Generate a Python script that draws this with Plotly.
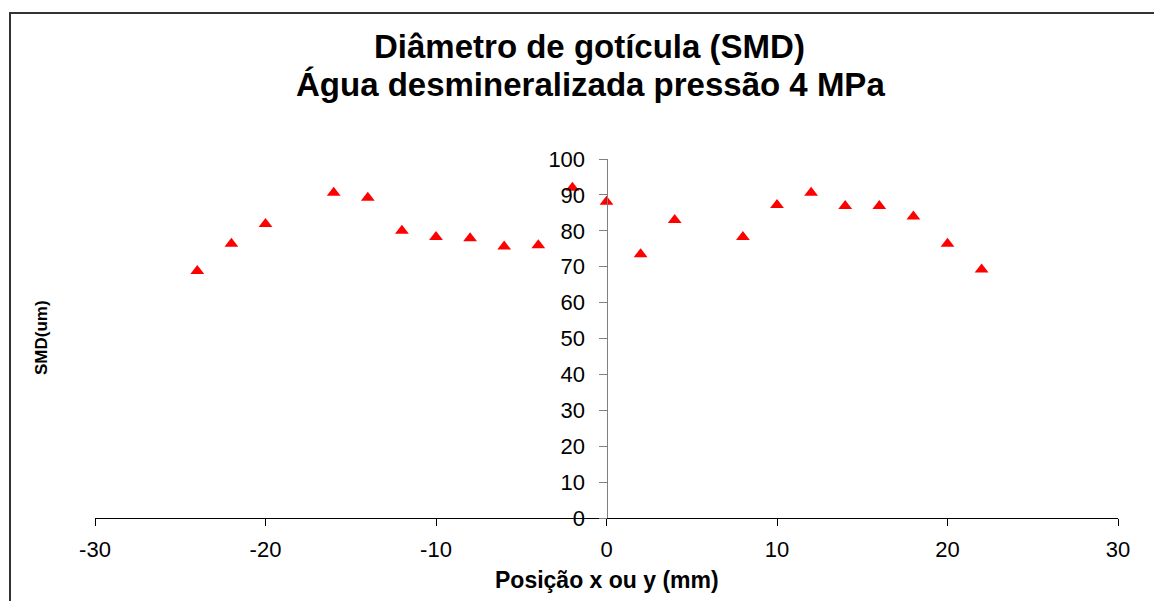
import plotly.graph_objects as go

# Data
positions = [-24, -22, -20, -16, -14, -12, -10, -8, -6, -4, -2, 0,
             2, 4, 8, 10, 12, 14, 16, 18, 20, 22]
smd = [68.8, 76.4, 81.9, 90.6, 89.2, 80.0, 78.3, 77.9, 75.6, 76.0, 92.0, 88.1,
       73.5, 83.0, 78.3, 87.2, 90.6, 86.9, 86.9, 84.0, 76.4, 69.2]
x_ticks = [-30, -20, -10, 0, 10, 20, 30]
y_ticks = [0, 10, 20, 30, 40, 50, 60, 70, 80, 90, 100]

title_line1 = "Diâmetro de gotícula (SMD)"
title_line2 = "Água desmineralizada pressão 4 MPa"
x_title = "Posição x ou y (mm)"
y_title = "SMD(um)"

W, H = 1154, 601
L, R, T, B = 95, 36, 159, 83
pw, ph = W - L - R, H - T - B

def px_x(p):
    return (p - L) / pw

def px_y(p):
    return (H - B - p) / ph

FONT = "Liberation Sans, Arial, sans-serif"

fig = go.Figure()
fig.add_trace(go.Scatter(
    x=positions, y=smd, mode="markers",
    marker=dict(symbol="triangle-up", size=12, color="#ff0000"),
    showlegend=False, cliponaxis=False,
))

fig.update_layout(
    width=W, height=H,
    margin=dict(l=L, r=R, t=T, b=B),
    paper_bgcolor="white", plot_bgcolor="white",
    font=dict(family=FONT, color="black"),
    xaxis=dict(
        range=[-30, 30], tickvals=x_ticks, ticktext=[str(v) for v in x_ticks],
        showgrid=False, zeroline=False, showline=True, linecolor="black",
        linewidth=1, ticks="outside", ticklen=7, tickcolor="black",
        tickfont=dict(size=22, family=FONT), ticklabelstandoff=5,
    ),
    yaxis=dict(
        range=[0, 100], tickvals=y_ticks, ticktext=[str(v) for v in y_ticks],
        showgrid=False, zeroline=False, showline=True, linecolor="#808080",
        linewidth=1, ticks="outside", ticklen=8, tickcolor="#808080",
        tickfont=dict(size=22, family=FONT), anchor="free", position=0.5,
        ticklabelstandoff=9,
    ),
    annotations=[
        dict(text="<b>%s</b>" % title_line1, x=px_x(589), y=px_y(46),
             xref="paper", yref="paper", showarrow=False,
             xanchor="center", yanchor="middle",
             font=dict(size=33, family=FONT)),
        dict(text="<b>%s</b>" % title_line2, x=px_x(590), y=px_y(84),
             xref="paper", yref="paper", showarrow=False,
             xanchor="center", yanchor="middle",
             font=dict(size=33, family=FONT)),
        dict(text="<b>%s</b>" % x_title, x=px_x(607), y=px_y(580),
             xref="paper", yref="paper", showarrow=False,
             xanchor="center", yanchor="middle",
             font=dict(size=23, family=FONT)),
        dict(text="<b>%s</b>" % y_title, x=px_x(41), y=px_y(338),
             xref="paper", yref="paper", showarrow=False, textangle=-90,
             xanchor="center", yanchor="middle",
             font=dict(size=17, family=FONT)),
    ],
    shapes=[
        dict(type="rect", xref="paper", yref="paper",
             x0=px_x(10), x1=px_x(1170), y0=px_y(620), y1=px_y(13),
             line=dict(color="#333333", width=2), fillcolor="rgba(0,0,0,0)",
             layer="below"),
    ],
)

fig.write_html("out.html")
